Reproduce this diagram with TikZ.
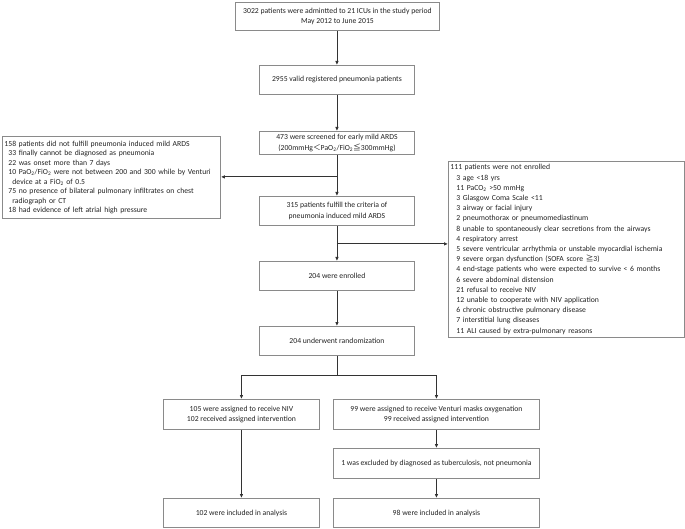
\documentclass[tikz,border=0pt]{standalone}
\usepackage{fontspec}
\setmainfont{Carlito}
\newfontfamily\cjk{Noto Sans CJK SC}
\usetikzlibrary{arrows.meta}
\definecolor{boxgray}{HTML}{8A8A8A}
\definecolor{linegray}{HTML}{333333}
\definecolor{txtgray}{HTML}{222222}
\tikzset{
  box/.style={draw=boxgray, line width=0.9pt, anchor=north west, inner sep=0pt,
    align=center, text=txtgray, font=\fontsize{7.7}{10.2}\selectfont},
  listbox/.style={box, align=left, inner xsep=2pt},
  conn/.style={draw=linegray, line width=0.8pt},
  arr/.style={conn, -{Latex[length=4pt,width=3.6pt]}}
}
\newcommand{\ind}{\hspace*{4pt}}
\newcommand{\indd}{\hspace*{8pt}}
\newcommand{\indr}{\hspace*{6pt}}
\begin{document}
\begin{tikzpicture}[x=1pt,y=-1pt]
\useasboundingbox (0,0) rectangle (685,529);
\node[box, minimum width=204pt, minimum height=28pt] (top) at (235,2)
  {3022 patients were admintted to 21 ICUs in the study period\\May 2012 to June 2015};
\node[box, minimum width=155pt, minimum height=29pt] (b2955) at (259,65)
  {2955 valid registered pneumonia patients};
\node[box, minimum width=155pt, minimum height=23pt] (b473) at (259,131)
  {473 were screened for early mild ARDS\\(200mmHg{\cjk ＜}PaO\textsubscript{2}/FiO\textsubscript{2}{\cjk ≦}300mmHg)};
\node[box, minimum width=155pt, minimum height=29pt] (b315) at (259,196)
  {315 patients fulfill the criteria of\\pneumonia induced mild ARDS};
\node[box, minimum width=155pt, minimum height=29pt] (enr) at (259,261)
  {204 were enrolled};
\node[box, minimum width=155pt, minimum height=29pt] (rand) at (259,326)
  {204 underwent randomization};
\node[box, minimum width=156pt, minimum height=30pt] (niv) at (163,399)
  {105 were assigned to receive NIV\\102 received assigned intervention};
\node[box, minimum width=206pt, minimum height=30pt] (ven) at (333,399)
  {99 were assigned to receive Venturi masks oxygenation\\99 received assigned intervention};
\node[box, minimum width=206pt, minimum height=30pt] (exc) at (333,448)
  {1 was excluded by diagnosed as tuberculosis, not pneumonia};
\node[box, minimum width=156pt, minimum height=29pt] (fniv) at (163,498)
  {102 were included in analysis};
\node[box, minimum width=206pt, minimum height=29pt] (fven) at (333,498)
  {98 were included in analysis};
\node[listbox, minimum width=218pt, minimum height=82pt, text width=214pt,
      font=\fontsize{7.7}{9.5}\selectfont] (lbox) at (2,136)
  {158 patients did not fulfill pneumonia induced mild ARDS\\
   \ind 33 finally cannot be diagnosed as pneumonia\\
   \ind 22 was onset more than 7 days\\
   \ind 10 PaO\textsubscript{2}/FiO\textsubscript{2} were not between 200 and 300 while by Venturi\\
   \indd device at a FiO\textsubscript{2} of 0.5\\
   \ind 75 no presence of bilateral pulmonary infiltrates on chest\\
   \indd radiograph or CT\\
   \ind 18 had evidence of left atrial high pressure};
\node[listbox, minimum width=236pt, minimum height=176pt, text width=232pt] (rbox) at (448,161)
  {111 patients were not enrolled\\
   \indr 3 age <18 yrs\\
   \indr 11 PaCO\textsubscript{2} >50 mmHg\\
   \indr 3 Glasgow Coma Scale <11\\
   \indr 3 airway or facial injury\\
   \indr 2 pneumothorax or pneumomediastinum\\
   \indr 8 unable to spontaneously clear secretions from the airways\\
   \indr 4 respiratory arrest\\
   \indr 5 severe ventricular arrhythmia or unstable myocardial ischemia\\
   \indr 9 severe organ dysfunction (SOFA score {\cjk ≧}3)\\
   \indr 4 end-stage patients who were expected to survive < 6 months\\
   \indr 6 severe abdominal distension\\
   \indr 21 refusal to receive NIV\\
   \indr 12 unable to cooperate with NIV application\\
   \indr 6 chronic obstructive pulmonary disease\\
   \indr 7 interstitial lung diseases\\
   \indr 11 ALI caused by extra-pulmonary reasons};
% connectors
\draw[arr] (top.south -| b2955.north) -- (b2955.north);
\draw[arr] (b2955) -- (b473);
\draw[arr] (b473) -- (b315);
\path (b473.south) ++(0,22) coordinate (jl);
\draw[arr] (jl) -- (jl -| lbox.east);
\path (b315.south) ++(0,18) coordinate (jr);
\draw[arr] (jr) -- (jr -| rbox.west);
\draw[arr] (b315) -- (enr);
\draw[arr] (enr) -- (rand);
\path (rand.south) ++(0,19) coordinate (sp);
\draw[conn] (rand.south) -- (sp);
\draw[arr] (sp) -| (niv.north);
\draw[arr] (sp) -| (ven.north);
\draw[arr] (niv) -- (fniv);
\draw[arr] (ven) -- (exc);
\draw[arr] (exc) -- (fven);
\end{tikzpicture}
\end{document}
